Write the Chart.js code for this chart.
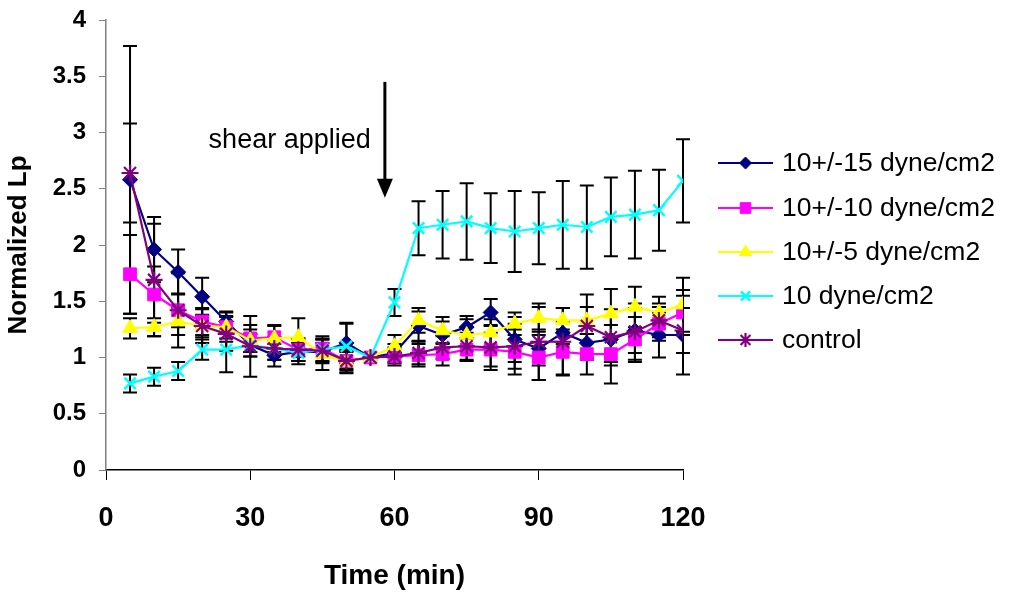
<!DOCTYPE html>
<html>
<head>
<meta charset="utf-8">
<script src="https://cdn.jsdelivr.net/npm/chart.js@4/dist/chart.umd.min.js"></script>
<style>
html,body{margin:0;padding:0;background:#fff;}
#wrap{width:1012px;height:593px;position:relative;}
</style>
</head>
<body>
<div id="wrap"><canvas id="c" width="1012" height="593"></canvas></div>
<script>
const times = [5,10,15,20,25,30,35,40,45,50,55,60,65,70,75,80,85,90,95,100,105,110,115,120];
const xTicks = [0,30,60,90,120];
const seriesNames = ["10+/-15 dyne/cm2","10+/-10 dyne/cm2","10+/-5 dyne/cm2","10 dyne/cm2","control"];

const s15 = [2.58,1.96,1.76,1.54,1.32,1.11,1.02,1.05,1.05,1.13,1.0,1.04,1.28,1.2,1.27,1.4,1.16,1.08,1.22,1.13,1.16,1.24,1.2,1.2];
const s10 = [1.74,1.56,1.42,1.32,1.27,1.17,1.18,1.07,1.08,0.97,1.0,1.01,1.02,1.03,1.07,1.07,1.05,1.0,1.05,1.03,1.03,1.16,1.3,1.4];
const s5  = [1.26,1.27,1.32,1.28,1.27,1.15,1.17,1.18,1.03,0.96,1.0,1.1,1.33,1.24,1.2,1.22,1.3,1.35,1.33,1.33,1.39,1.45,1.4,1.47];
const s0  = [0.77,0.83,0.88,1.07,1.07,1.11,1.08,1.04,1.07,1.1,1.0,1.49,2.15,2.18,2.21,2.15,2.12,2.15,2.18,2.16,2.25,2.27,2.31,2.57];
const ctl = [2.64,1.69,1.42,1.28,1.21,1.1,1.08,1.07,1.06,0.97,1.0,1.01,1.04,1.09,1.1,1.09,1.1,1.14,1.14,1.28,1.18,1.23,1.33,1.24];

const e15 = [1.19,0.29,0.2,0.17,0.09,0.1,0.1,0.08,0.08,0.18,0,0.08,0.13,0.12,0.1,0.12,0.2,0.15,0.1,0.15,0.2,0.2,0.2,0.35];
const e10 = [0.35,0.25,0.15,0.12,0.1,0.12,0.1,0.1,0.08,0.08,0,0.06,0.1,0.1,0.1,0.15,0.2,0.2,0.2,0.18,0.26,0.2,0.15,0.2];
const e5  = [0.09,0.08,0.12,0.1,0.13,0.1,0.12,0.17,0.14,0.1,0,0.1,0.11,0.12,0.14,0.12,0.1,0.1,0.11,0.12,0.22,0.18,0.14,0.24];
const e0  = [0.08,0.08,0.08,0.09,0.2,0.1,0.1,0.1,0.12,0.2,0,0.12,0.24,0.3,0.34,0.31,0.36,0.32,0.39,0.37,0.35,0.39,0.36,0.37];
const ectl= [0.44,0.5,0.33,0.15,0.15,0.27,0.1,0.1,0.1,0.1,0,0.08,0.1,0.1,0.12,0.2,0.2,0.34,0.3,0.28,0.25,0.25,0.15,0.2];

const FONT = "'Liberation Sans', Arial, sans-serif";

function pts(vals){ return times.map((t,i)=>({x:t,y:vals[i]})); }

const styles = [
  {color:'#000080', point:'rectRot', radius:7.5, bw:1},
  {color:'#FF00FF', point:'rect', radius:9, bw:1},
  {color:'#FFFF00', point:'triangle', radius:8.5, bw:1},
  {color:'#00FFFF', point:'crossRot', radius:8, bw:2.5},
  {color:'#800080', point:'star', radius:8.5, bw:2.2}
];
const values = [s15,s10,s5,s0,ctl];
const errs = [e15,e10,e5,e0,ectl];

const datasets = values.map((v,k)=>({
  label: seriesNames[k],
  data: pts(v),
  borderColor: styles[k].color,
  backgroundColor: styles[k].color,
  pointBackgroundColor: styles[k].color,
  pointBorderColor: styles[k].color,
  pointStyle: styles[k].point,
  pointRadius: styles[k].radius,
  pointBorderWidth: styles[k].bw,
  borderWidth: 2.2,
  tension: 0,
  order: 5-k,
  errors: errs[k]
}));

const errorBars = {
  id:'errorBars',
  beforeDatasetsDraw(chart){
    const ctx = chart.ctx, xs = chart.scales.x, ys = chart.scales.y;
    ctx.save();
    ctx.strokeStyle = '#000';
    ctx.lineWidth = 2;
    chart.data.datasets.forEach(ds=>{
      ds.data.forEach((p,i)=>{
        const e = ds.errors[i];
        if(!e) return;
        const x = xs.getPixelForValue(p.x);
        const yt = ys.getPixelForValue(p.y+e);
        const yb = ys.getPixelForValue(p.y-e);
        ctx.beginPath();
        ctx.moveTo(x,yt); ctx.lineTo(x,yb);
        ctx.moveTo(x-7,yt); ctx.lineTo(x+7,yt);
        ctx.moveTo(x-7,yb); ctx.lineTo(x+7,yb);
        ctx.stroke();
      });
    });
    ctx.restore();
  }
};

const annot = {
  id:'annot',
  afterDraw(chart){
    const ctx = chart.ctx, xs = chart.scales.x, ys = chart.scales.y;
    ctx.save();
    // arrow
    const ax = xs.getPixelForValue(58);
    const y1 = ys.getPixelForValue(3.45), y2 = ys.getPixelForValue(2.42);
    ctx.strokeStyle='#000'; ctx.fillStyle='#000'; ctx.lineWidth=3;
    ctx.beginPath(); ctx.moveTo(ax,y1); ctx.lineTo(ax,y2-14); ctx.stroke();
    ctx.beginPath(); ctx.moveTo(ax-8,y2-19); ctx.lineTo(ax+8,y2-19); ctx.lineTo(ax,y2); ctx.closePath(); ctx.fill();
    // text
    ctx.font = "27px "+FONT;
    ctx.textAlign='center'; ctx.textBaseline='middle';
    ctx.fillText('shear applied', xs.getPixelForValue(38.2), ys.getPixelForValue(2.93));
    // legend
    const lx0 = 718, lx1 = 773, tx = 782;
    const rows = [163,208,252,296,340];
    chart.data.datasets.forEach((ds,k)=>{
      const y = rows[k];
      ctx.strokeStyle = ds.borderColor; ctx.lineWidth = 2;
      ctx.beginPath(); ctx.moveTo(lx0,y); ctx.lineTo(lx1,y); ctx.stroke();
      ctx.fillStyle = ds.backgroundColor; ctx.strokeStyle = ds.borderColor;
      ctx.lineWidth = ds.pointBorderWidth;
      Chart.helpers.drawPoint(ctx,{pointStyle:ds.pointStyle, radius:ds.pointRadius-1.5, rotation:0, borderWidth:ds.pointBorderWidth}, (lx0+lx1)/2, y);
      ctx.fillStyle='#000';
      ctx.font = "26.5px "+FONT;
      ctx.textAlign='left'; ctx.textBaseline='middle';
      ctx.fillText(ds.label, tx, y+1);
    });
    ctx.restore();
  }
};

new Chart(document.getElementById('c'), {
  type:'line',
  data:{datasets},
  options:{
    responsive:false,
    animation:false,
    layout:{padding:{top:20,right:329,left:0,bottom:0}},
    plugins:{legend:{display:false},tooltip:{enabled:false}},
    scales:{
      x:{
        type:'linear', min:0, max:120,
        afterBuildTicks(s){ s.ticks = xTicks.map(v=>({value:v})); },
        afterFit(s){ s.height = 123; },
        grid:{drawOnChartArea:false, drawTicks:true, tickLength:10, color:'#000', lineWidth:1},
        border:{display:true, color:'#000', width:1.5},
        ticks:{font:{family:FONT, size:27, weight:'bold'}, color:'#000', padding:22, maxRotation:0},
        title:{display:true, text:'Time (min)', font:{family:FONT, size:28, weight:'bold'}, color:'#000', padding:{top:0,bottom:0}}
      },
      y:{
        min:0, max:4,
        ticks:{stepSize:0.5, font:{family:FONT, size:24, weight:'bold', lineHeight:0.5}, color:'#000', padding:13,
               callback:(v)=>String(v)},
        afterFit(s){ s.width = 106; },
        grid:{drawOnChartArea:false, drawTicks:true, tickLength:7, color:'#808080'},
        border:{display:true, color:'#808080', width:1.5},
        title:{display:true, text:'Normalized Lp', font:{family:FONT, size:26, weight:'bold'}, color:'#000', padding:{top:3,bottom:0}}
      }
    }
  },
  plugins:[errorBars, annot]
});
</script>
</body>
</html>
